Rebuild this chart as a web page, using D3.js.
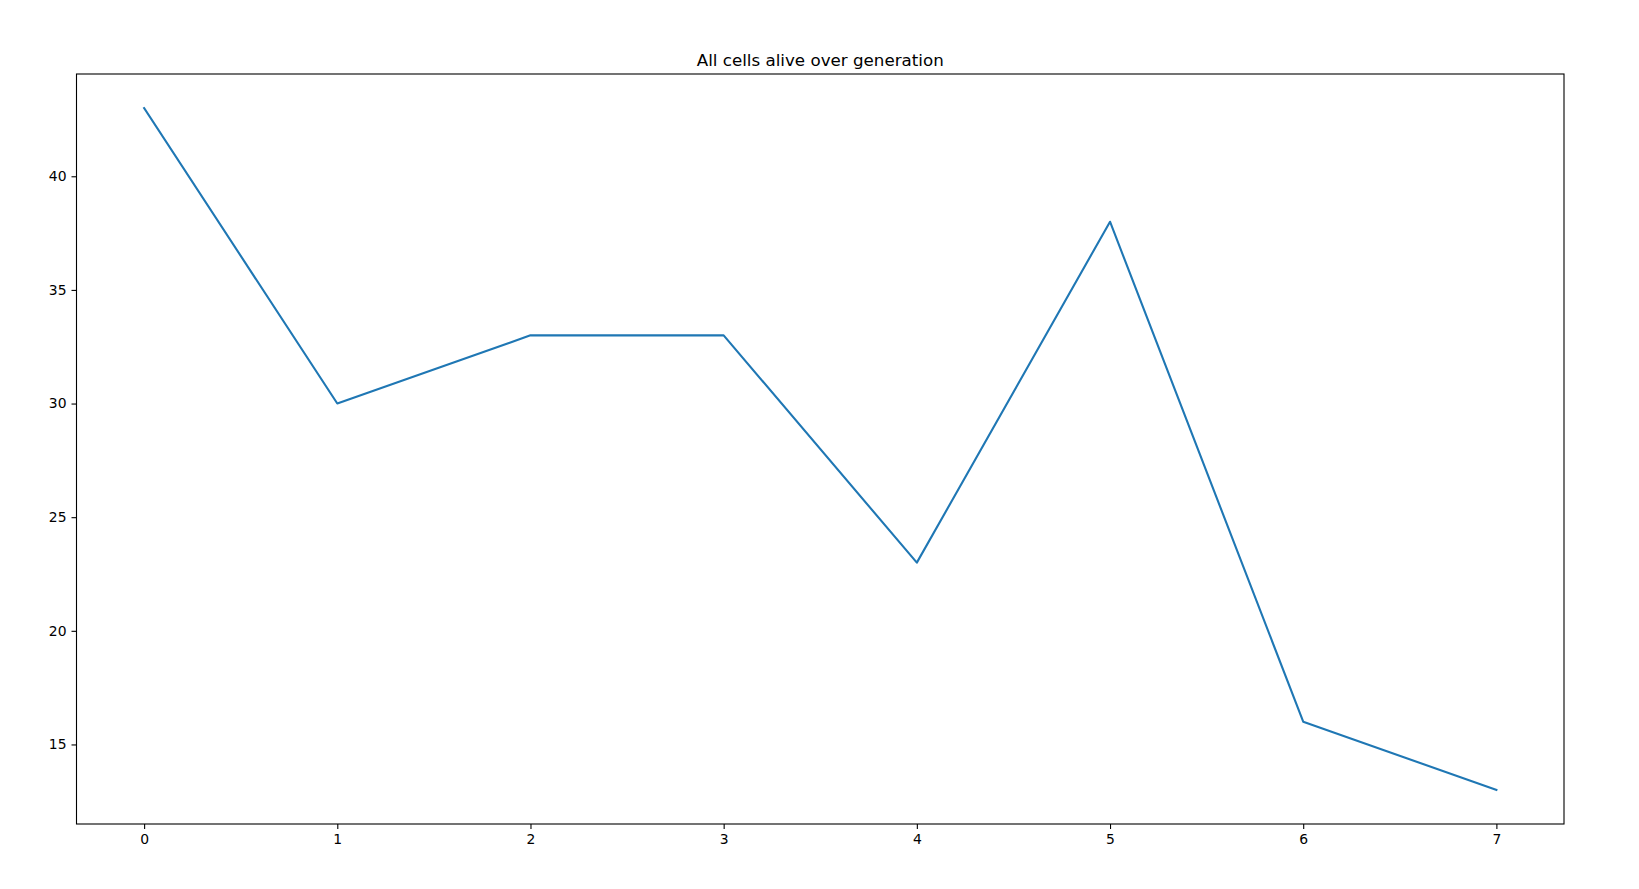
<!DOCTYPE html>
<html>
<head>
<meta charset="utf-8">
<script src="https://cdnjs.cloudflare.com/ajax/libs/d3/7.8.5/d3.min.js"></script>
<style>
  body { margin: 0; background: #fff; }
  text { font-family: "DejaVu Sans", sans-serif; fill: #000; }
</style>
</head>
<body>
<div id="chart"></div>
<script>
// data
const generations = [0, 1, 2, 3, 4, 5, 6, 7];
const aliveCells = [43, 30, 33, 33, 23, 38, 16, 13];
const xTicks = [0, 1, 2, 3, 4, 5, 6, 7];
const yTicks = [15, 20, 25, 30, 35, 40];
const chartTitle = "All cells alive over generation";

const svgWidth = 1639;
const svgHeight = 889;

const margin = { top: 74, right: 75, bottom: 65, left: 76.5 };
const width = svgWidth - margin.left - margin.right;
const height = svgHeight - margin.top - margin.bottom;

const svg = d3.select("#chart")
  .append("svg")
  .attr("width", svgWidth)
  .attr("height", svgHeight);

const chartGroup = svg.append("g")
  .attr("transform", `translate(${margin.left}, ${margin.top})`);

// matplotlib-style 5% margins
const xPad = (d3.max(generations) - d3.min(generations)) * 0.05;
const yPad = (d3.max(aliveCells) - d3.min(aliveCells)) * 0.05;

const xScale = d3.scaleLinear()
  .domain([d3.min(generations) - xPad, d3.max(generations) + xPad])
  .range([0, width]);

const yScale = d3.scaleLinear()
  .domain([d3.min(aliveCells) - yPad, d3.max(aliveCells) + yPad])
  .range([height, 0]);

const xAxis = d3.axisBottom(xScale)
  .tickValues(xTicks)
  .tickSize(5)
  .tickPadding(5)
  .tickFormat(d3.format("d"));

const yAxis = d3.axisLeft(yScale)
  .tickValues(yTicks)
  .tickSize(5)
  .tickPadding(5)
  .tickFormat(d3.format("d"));

const gx = chartGroup.append("g")
  .attr("transform", `translate(0, ${height})`)
  .call(xAxis);

const gy = chartGroup.append("g")
  .call(yAxis);

[gx, gy].forEach(g => {
  g.select(".domain").remove();
  g.selectAll(".tick line").attr("stroke", "#000").attr("stroke-width", 1.1);
  g.selectAll(".tick text").attr("font-size", "13.9px").attr("font-family", "DejaVu Sans");
});

// line
const line = d3.line()
  .x((d, i) => xScale(generations[i]))
  .y(d => yScale(d));

chartGroup.append("path")
  .datum(aliveCells)
  .attr("d", line)
  .attr("fill", "none")
  .attr("stroke", "#1f77b4")
  .attr("stroke-width", 2.1)
  .attr("stroke-linejoin", "round")
  .attr("stroke-linecap", "square");

// frame
chartGroup.append("rect")
  .attr("x", 0)
  .attr("y", 0)
  .attr("width", width)
  .attr("height", height)
  .attr("fill", "none")
  .attr("stroke", "#000")
  .attr("stroke-width", 1.1);

// title
chartGroup.append("text")
  .attr("x", width / 2)
  .attr("y", -8.5)
  .attr("text-anchor", "middle")
  .attr("font-size", "16.7px")
  .text(chartTitle);
</script>
</body>
</html>
